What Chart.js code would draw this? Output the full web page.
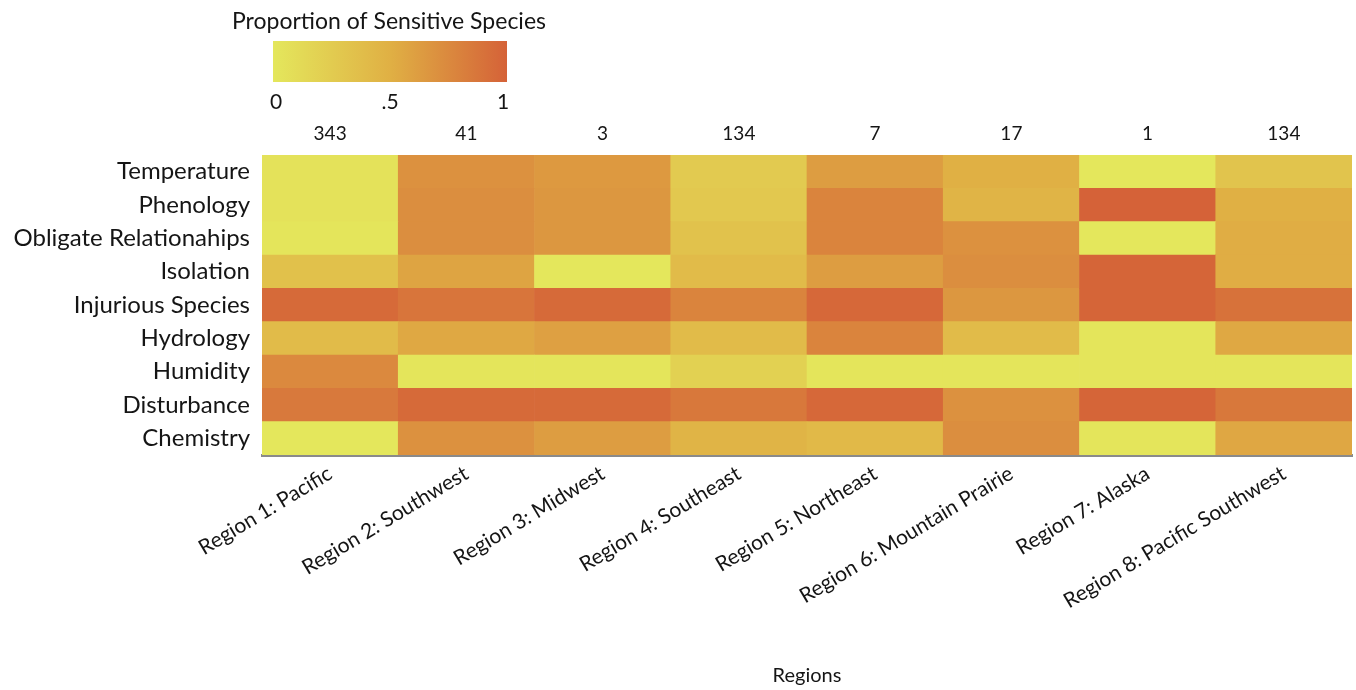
<!DOCTYPE html>
<html>
<head>
<meta charset="utf-8">
<script src="https://cdn.jsdelivr.net/npm/chart.js@4"></script>
<style>
  html, body { margin: 0; padding: 0; background: #fff; }
  #wrap { width: 1356px; height: 690px; }
</style>
</head>
<body>
<div id="wrap"><canvas id="heat"></canvas></div>
<script>
// regions (columns) and species counts shown above them
const regions = ['Region 1: Pacific', 'Region 2: Southwest', 'Region 3: Midwest', 'Region 4: Southeast',
    'Region 5: Northeast', 'Region 6: Mountain Prairie', 'Region 7: Alaska', 'Region 8: Pacific Southwest'];
const counts = ['343', '41', '3', '134', '7', '17', '1', '134'];

// factors, top to bottom
const factors = ['Temperature', 'Phenology', 'Obligate Relationahips', 'Isolation', 'Injurious Species',
    'Hydrology', 'Humidity', 'Disturbance', 'Chemistry'];

// proportion of sensitive species, one array per factor (region 1..8)
const temperature = [0.05, 0.70, 0.65, 0.26, 0.62, 0.50, 0.00, 0.32];
const phenology   = [0.05, 0.72, 0.66, 0.28, 0.78, 0.46, 1.00, 0.50];
const obligate    = [0.02, 0.72, 0.66, 0.34, 0.78, 0.70, 0.00, 0.52];
const isolation   = [0.35, 0.58, 0.00, 0.40, 0.62, 0.72, 0.98, 0.52];
const injurious   = [0.95, 0.88, 0.95, 0.78, 0.96, 0.66, 0.98, 0.90];
const hydrology   = [0.40, 0.55, 0.60, 0.40, 0.78, 0.40, 0.02, 0.55];
const humidity    = [0.75, 0.02, 0.02, 0.20, 0.02, 0.02, 0.02, 0.02];
const disturbance = [0.85, 0.95, 0.95, 0.86, 0.96, 0.70, 0.98, 0.86];
const chemistry   = [0.00, 0.70, 0.62, 0.46, 0.42, 0.72, 0.02, 0.56];

const values = [temperature, phenology, obligate, isolation, injurious, hydrology, humidity, disturbance, chemistry];

// colour ramp: yellow -> amber -> red-orange
const stops = [[0, [228, 231, 92]], [0.5, [224, 176, 68]], [1, [213, 98, 56]]];
function rampColor(v) {
    for (let i = 1; i < stops.length; i++) {
        if (v <= stops[i][0]) {
            const a = stops[i - 1], b = stops[i];
            const t = (v - a[0]) / (b[0] - a[0]);
            const c = a[1].map((x, k) => Math.round(x + (b[1][k] - x) * t));
            return `rgb(${c[0]}, ${c[1]}, ${c[2]})`;
        }
    }
    const c = stops[stops.length - 1][1];
    return `rgb(${c[0]}, ${c[1]}, ${c[2]})`;
}

const FONT = 'Lato, "Open Sans", sans-serif';
const INK = '#151515';

// stacked bars, bottom row first, each cell one unit tall
const datasets = factors.map((f, i) => ({
    label: f,
    data: regions.map(() => 1),
    backgroundColor: values[i].map(rampColor),
    borderWidth: 0,
    categoryPercentage: 1,
    barPercentage: 1
})).reverse();

const colorLegend = {
    id: 'colorLegend',
    afterDraw(chart) {
        const ctx = chart.ctx;
        ctx.save();
        ctx.fillStyle = INK;
        ctx.font = '23px ' + FONT;
        ctx.textAlign = 'left';
        ctx.textBaseline = 'middle';
        ctx.fillText('Proportion of Sensitive Species', 232, 22);
        const x0 = 273, x1 = 507, y0 = 41, h = 41;
        const g = ctx.createLinearGradient(x0, 0, x1, 0);
        stops.forEach(s => g.addColorStop(s[0], rampColor(s[0])));
        ctx.fillStyle = g;
        ctx.fillRect(x0, y0, x1 - x0, h);
        ctx.fillStyle = INK;
        ctx.font = '21px ' + FONT;
        ctx.textAlign = 'center';
        [['0', x0 + 3], ['.5', (x0 + x1) / 2], ['1', x1 - 4]].forEach(([t, x]) => ctx.fillText(t, x, 102));
        ctx.restore();
    }
};

new Chart(document.getElementById('heat'), {
    type: 'bar',
    data: { labels: regions, datasets: datasets },
    options: {
        responsive: true,
        maintainAspectRatio: false,
        animation: false,
        layout: { padding: { top: 0, right: 4, left: 0, bottom: 0 } },
        plugins: { legend: { display: false }, tooltip: { enabled: false } },
        scales: {
            x: {
                stacked: true,
                grid: { display: false, drawTicks: false },
                border: { display: true, color: '#8a8a8a', width: 3 },
                ticks: {
                    color: INK, font: { family: FONT, size: 21 },
                    minRotation: 31, maxRotation: 31, autoSkip: false, padding: 6
                },
                title: { display: true, text: 'Regions', color: INK, font: { family: FONT, size: 20 }, padding: { top: 0, bottom: 2 } },
                afterFit(scale) { scale.height = 235; }
            },
            x2: {
                type: 'category',
                position: 'top',
                labels: counts,
                grid: { display: false, drawTicks: false },
                border: { display: false },
                ticks: { color: INK, font: { family: FONT, size: 19 }, padding: 10 },
                afterFit(scale) { scale.height = 155; }
            },
            y: {
                stacked: true,
                min: 0,
                max: factors.length,
                grid: { display: false, drawTicks: false },
                border: { display: false },
                afterBuildTicks(scale) {
                    scale.ticks = factors.map((f, i) => ({ value: i + 0.5 }));
                },
                ticks: {
                    color: INK, font: { family: FONT, size: 24 }, padding: 12,
                    callback: v => factors[factors.length - 1 - Math.floor(v)]
                },
                afterFit(scale) { scale.width = 262; }
            }
        }
    },
    plugins: [colorLegend]
});
</script>
</body>
</html>
